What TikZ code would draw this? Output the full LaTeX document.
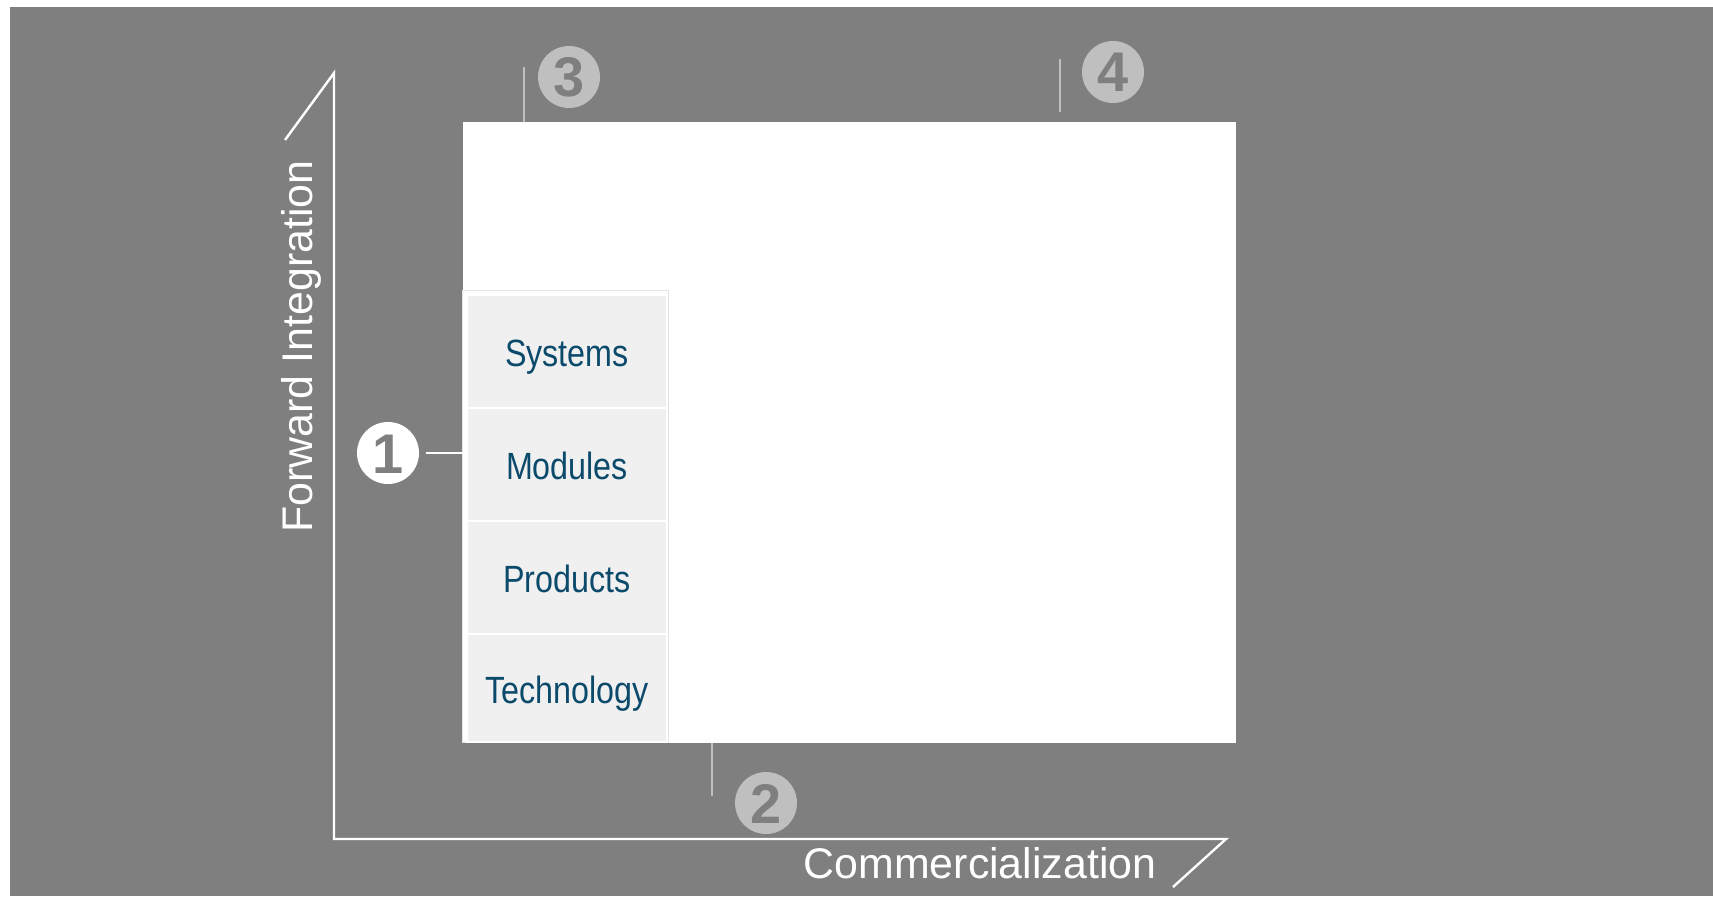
\documentclass[tikz,border=0pt]{standalone}
\usepackage{fontspec}
\setmainfont{Liberation Sans}
\newfontfamily\narrowsans[FakeStretch=0.85]{Liberation Sans}
\usetikzlibrary{positioning}

\definecolor{bggray}{HTML}{7F7F7F}
\definecolor{tilegray}{HTML}{F0F0F0}
\definecolor{tiletext}{HTML}{0B4A6B}
\definecolor{badgegray}{HTML}{BFBFBF}
\definecolor{framegray}{HTML}{E4E4E4}

\tikzset{
    layer/.style={fill=tilegray, draw=white, line width=0.25mm, minimum width=20mm,
        minimum height=11.3mm, inner sep=0pt, outer sep=0pt, text=tiletext,
        font=\narrowsans\fontsize{10.8}{12}\selectfont, text height=3mm, text depth=0mm},
    badge/.style={circle, minimum size=6.2mm, inner sep=0pt, text=bggray,
        font=\fontsize{15.9}{17}\selectfont\bfseries, text height=4mm, text depth=0mm},
    axis/.style={white, line width=0.24mm, line join=miter},
    axislabel/.style={text=white, inner sep=0pt, font=\fontsize{12.2}{14}\selectfont},
    tick/.style={badgegray, line width=0.22mm},
    link/.style={white, line width=0.22mm, shorten <=0.6mm}
}

\begin{document}
\begin{tikzpicture}[x=0.1mm, y=0.1mm]
    \useasboundingbox (0,0) rectangle (1713,896);
    \fill[bggray] (10,0) rectangle (1713,889);

    % white panel
    \node[fill=white, minimum width=77.3mm, minimum height=62.1mm, inner sep=0pt, outer sep=0pt] (panel) at (849.5,463.5) {};

    % stack of layers
    \draw[framegray, line width=0.1mm] (462.5,154) rectangle (668.5,606);
    \node[layer, minimum height=10.8mm, anchor=south west] (tech) at (467,154) {Technology};
    \node[layer, above=0pt of tech] (prod) {Products};
    \node[layer, above=0pt of prod] (mod) {Modules};
    \node[layer, above=0pt of mod] (sys) {Systems};

    % axes
    \coordinate (ytip) at (285,756);
    \coordinate (ytop) at (334,823);
    \coordinate (origin) at (334,57);
    \coordinate (xend) at (1226,57);
    \coordinate (xtip) at (1173,9);
    \draw[axis] (ytip) -- (ytop) -- (origin) -- (xend) -- (xtip);
    \node[axislabel, rotate=90, anchor=base] (fwd) at (312,549.5) {Forward Integration};
    \node[axislabel, anchor=base] (comm) at (980,18) {Commercialization};

    % numbered markers
    \node[badge, fill=white] (one) at (388,443) {1};
    \draw[link] (one) -- (one -| panel.west);

    \node[badge, fill=badgegray] (two) at (766,93) {2};
    \coordinate (t2) at (712,100);
    \draw[tick] (t2) -- (t2 |- panel.south);

    \node[badge, fill=badgegray] (three) at (569,819) {3};
    \coordinate (t3) at (524,829);
    \draw[tick] (t3) -- (t3 |- panel.north);

    \node[badge, fill=badgegray] (four) at (1113,824) {4};
    \coordinate (t4a) at (1060,837);
    \coordinate (t4b) at (1060,784);
    \draw[tick] (t4a) -- (t4b);
\end{tikzpicture}
\end{document}
